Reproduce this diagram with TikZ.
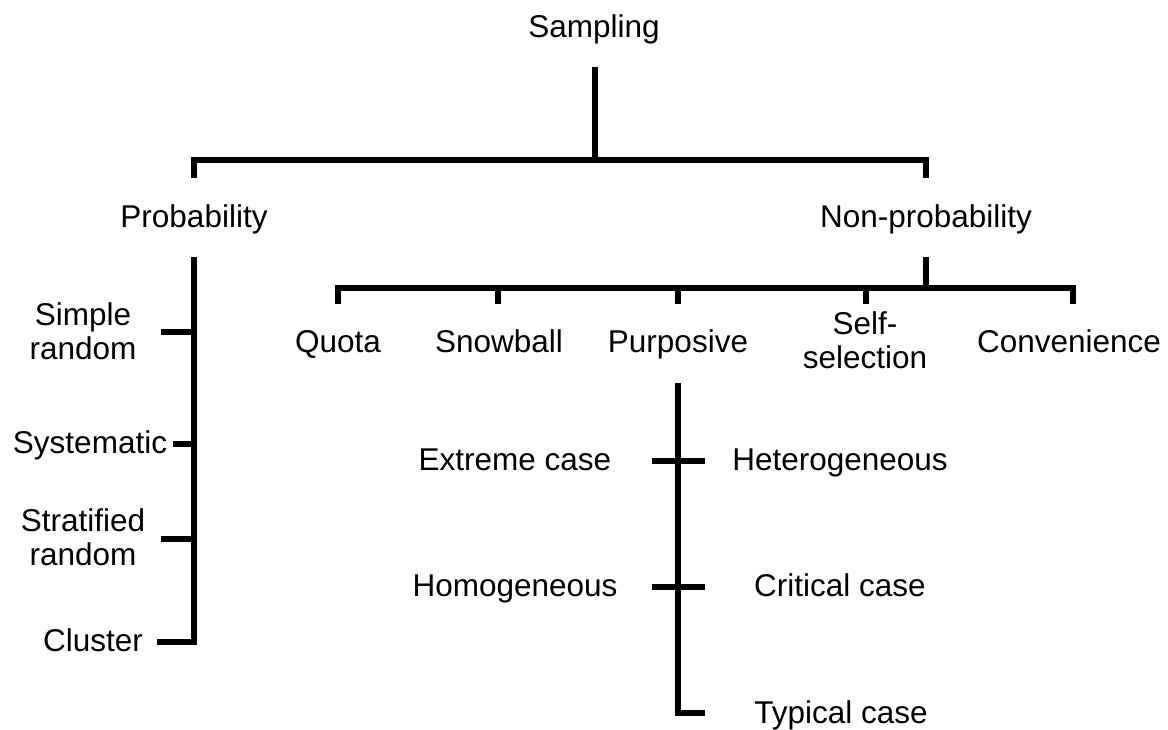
\documentclass[tikz,border=0pt]{standalone}
\usepackage{fontspec}
\setmainfont{Liberation Sans}
\begin{document}
\begin{tikzpicture}[x=1pt,y=-1pt,
  lbl/.style={anchor=base,inner sep=0pt,align=center,
    font=\fontsize{31.5}{33.5}\selectfont},
  branch/.style={line width=5.5pt,line join=miter,line cap=butt}]
\useasboundingbox (0,0) rectangle (1168,729);

% labels (two-line labels are placed by the baseline of their last line)
\node[lbl] (samp) at (594,37) {Sampling};
\node[lbl] (prob) at (194,227) {Probability};
\node[lbl] (nonp) at (926,227) {Non-probability};

\node[lbl] (simple) at (83,359) {Simple\\random};
\node[lbl] (syst) at (90,453) {Systematic};
\node[lbl] (strat) at (83,565) {Stratified\\random};
\node[lbl] (clus) at (93,651) {Cluster};

\node[lbl] (quota) at (338,352) {Quota};
\node[lbl] (snow) at (499,352) {Snowball};
\node[lbl] (purp) at (678,352) {Purposive};
\node[lbl] (self) at (865,368) {Self-\\selection};
\node[lbl] (conv) at (1069,352) {Convenience};

\node[lbl] (extr) at (515,470) {Extreme case};
\node[lbl] (hete) at (840,470) {Heterogeneous};
\node[lbl] (homo) at (515,596) {Homogeneous};
\node[lbl] (crit) at (840,596) {Critical case};
\node[lbl] (typi) at (841,723) {Typical case};

% junction points
\coordinate (sTop) at (595,67);
\coordinate (sBar) at (595,160);
\coordinate (pEnd) at (194,178);
\coordinate (nEnd) at (926,178);

\coordinate (pTop) at (194,257);
\coordinate (pBot) at (194,642);
\coordinate (nTop) at (926,257);
\coordinate (nBar) at (926,288);
\coordinate (uTop) at (678,383);
\coordinate (uBot) at (678,713);

% top split
\draw[branch] (sTop) -- (sBar);
\draw[branch] (pEnd) -- (pEnd |- sBar) -- (nEnd |- sBar) -- (nEnd);

% probability methods
\draw[branch] (pTop) -- (pBot) -- (157,642);
\draw[branch] (161,332) -- (pTop |- 0,332);
\draw[branch] (173,444) -- (pTop |- 0,444);
\draw[branch] (161,539) -- (pTop |- 0,539);

% non-probability methods
\draw[branch] (nTop) -- (nBar);
\draw[branch] (338,304) -- (338,288) -- (1073,288) -- (1073,304);
\draw[branch] (498,288) -- (498,304);
\draw[branch] (678,288) -- (678,304);
\draw[branch] (866,288) -- (866,304);

% purposive subtypes
\draw[branch] (uTop) -- (uBot) -- (705,713);
\draw[branch] (652,461) -- (705,461);
\draw[branch] (652,587) -- (705,587);
\end{tikzpicture}
\end{document}
